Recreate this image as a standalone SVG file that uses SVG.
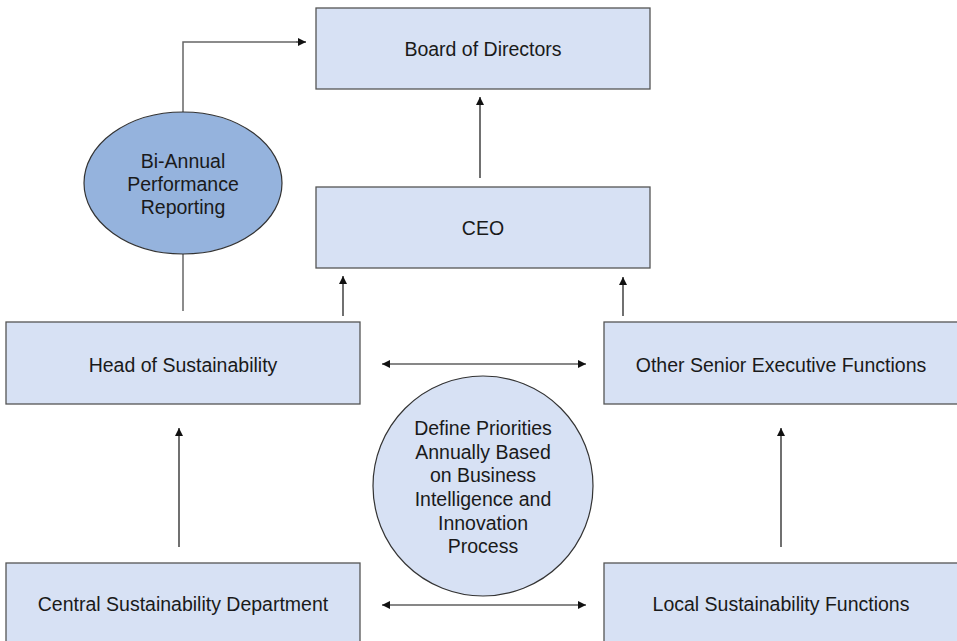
<svg xmlns="http://www.w3.org/2000/svg" width="957" height="641" viewBox="0 0 957 641">
<style>
.box{fill:#d7e1f4;stroke:#555;stroke-width:1.3}
.lbl{font-family:"Liberation Sans",Arial,sans-serif;font-size:19.5px;fill:#1a1a1a;text-anchor:middle}
.ln{fill:none;stroke:#111;stroke-width:1.2}
.lng{fill:none;stroke:#666;stroke-width:1.5}
</style>
<defs>
<marker id="ah" viewBox="0 0 10 10" refX="10" refY="5" markerWidth="8" markerHeight="8" markerUnits="userSpaceOnUse" orient="auto-start-reverse">
<path d="M0,0 L10,5 L0,10 z" fill="#111"/>
</marker>
</defs>
<rect width="957" height="641" fill="#fff"/>
<g id="connectors">
<path class="lng" d="M183,113 V42 H296"/>
<path d="M296,42 H306" class="ln" marker-end="url(#ah)"/>
<path class="lng" d="M183,254 V311"/>
<path class="ln" d="M480,178 V97" marker-end="url(#ah)"/>
<path class="ln" d="M343,316 V276" marker-end="url(#ah)"/>
<path class="ln" d="M623,316 V277" marker-end="url(#ah)"/>
<path class="ln" d="M179,547 V428" marker-end="url(#ah)"/>
<path class="ln" d="M781,547 V428" marker-end="url(#ah)"/>
<path class="ln" d="M382,364 H586" marker-start="url(#ah)" marker-end="url(#ah)"/>
<path class="ln" d="M382,605 H586" marker-start="url(#ah)" marker-end="url(#ah)"/>
</g>
<g id="board"><rect class="box" x="316" y="8" width="334" height="81"/><text class="lbl" x="483" y="56">Board of Directors</text></g>
<g id="ceo"><rect class="box" x="316" y="187" width="334" height="81"/><text class="lbl" x="483" y="235">CEO</text></g>
<g id="head"><rect class="box" x="6" y="322" width="354" height="82"/><text class="lbl" x="183" y="372">Head of Sustainability</text></g>
<g id="other"><rect class="box" x="604" y="322" width="360" height="82"/><text class="lbl" x="781" y="372">Other Senior Executive Functions</text></g>
<g id="central"><rect class="box" x="6" y="563" width="354" height="90"/><text class="lbl" x="183" y="611">Central Sustainability Department</text></g>
<g id="local"><rect class="box" x="604" y="563" width="360" height="90"/><text class="lbl" x="781" y="611">Local Sustainability Functions</text></g>
<g id="reporting"><ellipse cx="183" cy="183" rx="99" ry="71" fill="#95b3dd" stroke="#333" stroke-width="1.2"/>
<text class="lbl"><tspan x="183" y="168">Bi-Annual</tspan><tspan x="183" y="191">Performance</tspan><tspan x="183" y="214">Reporting</tspan></text></g>
<g id="priorities"><circle cx="483" cy="486" r="110" fill="#d7e1f4" stroke="#333" stroke-width="1.2"/>
<text class="lbl"><tspan x="483" y="435">Define Priorities</tspan><tspan x="483" y="459">Annually Based</tspan><tspan x="483" y="482">on Business</tspan><tspan x="483" y="506">Intelligence and</tspan><tspan x="483" y="530">Innovation</tspan><tspan x="483" y="553">Process</tspan></text></g>
</svg>
